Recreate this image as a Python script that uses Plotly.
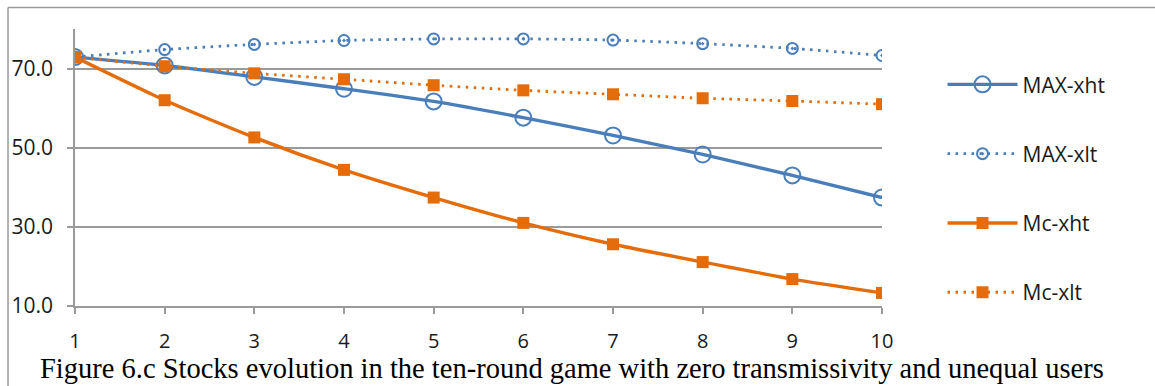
import plotly.graph_objects as go

# Rounds of the game
rounds = [1, 2, 3, 4, 5, 6, 7, 8, 9, 10]

# Stock levels per round for each scenario
max_xht = [72.9, 70.8, 67.9, 64.9, 61.7, 57.6, 53.1, 48.3, 43.0, 37.4]
max_xlt = [72.9, 74.8, 76.1, 77.1, 77.5, 77.5, 77.2, 76.3, 75.1, 73.3]
mc_xht = [72.9, 62.0, 52.6, 44.4, 37.4, 31.0, 25.6, 21.1, 16.8, 13.3]
mc_xlt = [72.9, 70.6, 68.8, 67.3, 65.8, 64.5, 63.5, 62.5, 61.8, 61.0]

y_ticks = [10, 30, 50, 70]
y_tick_labels = ["10.0", "30.0", "50.0", "70.0"]

caption = "Figure 6.c Stocks evolution in the ten-round game with zero transmissivity and unequal users"

BLUE = "#4A7EBB"
ORANGE = "#E46C0A"
GRID = "#9A9A9A"
TEXT = "#1a1a1a"

fig = go.Figure()

series = [
    ("MAX-xht", max_xht, BLUE, "solid", 3.4, "circle-open", 16, 2),
    ("MAX-xlt", max_xlt, BLUE, "2.5px,5.5px", 2.8, "circle-open-dot", 11, 2),
    ("Mc-xht", mc_xht, ORANGE, "solid", 3.4, "square", 12, 0),
    ("Mc-xlt", mc_xlt, ORANGE, "2.5px,5.5px", 2.8, "square", 12, 0),
]

for i, (name, vals, color, dash, lw, sym, size, mlw) in enumerate(series):
    fig.add_trace(go.Scatter(
        x=rounds, y=vals, name=name, legendgroup=f"g{i}",
        mode="lines+markers",
        line=dict(color=color, width=lw, dash=dash, shape="spline", smoothing=0.6),
        marker=dict(symbol=sym, size=size, color=color,
                    line=dict(color=color, width=mlw)),
    ))

fig.update_layout(
    width=1155, height=386,
    margin=dict(l=73, r=273, t=29, b=80),
    paper_bgcolor="white", plot_bgcolor="white",
    font=dict(family="Open Sans", size=21, color=TEXT),
    showlegend=True,
    legend=dict(
        x=1.075, xanchor="left", y=0.873, yanchor="top",
        traceorder="grouped", tracegroupgap=39,
        font=dict(family="Open Sans", size=21, color=TEXT),
        itemwidth=70, bgcolor="rgba(0,0,0,0)",
    ),
    xaxis=dict(
        range=[1, 10], tickvals=rounds, ticktext=[str(r) for r in rounds],
        showgrid=False, showline=True, linecolor=GRID, linewidth=1.5,
        ticks="outside", ticklen=6, tickcolor=GRID, tickwidth=1.5,
        ticklabelstandoff=10,
        tickfont=dict(family="Open Sans", size=20, color=TEXT),
        zeroline=False,
    ),
    yaxis=dict(
        range=[10, 80], tickvals=y_ticks, ticktext=y_tick_labels,
        showgrid=True, gridcolor=GRID, gridwidth=1.5,
        showline=True, linecolor=GRID, linewidth=1.5,
        ticks="outside", ticklen=6, tickcolor=GRID, tickwidth=1.5,
        ticklabelstandoff=10,
        tickfont=dict(family="Open Sans", size=21, color=TEXT),
        zeroline=False,
    ),
    annotations=[dict(
        text=caption, xref="paper", yref="paper", x=-0.046, y=-0.225,
        xanchor="left", yanchor="middle", showarrow=False,
        font=dict(family="Liberation Serif", size=28.5, color="black"),
    )],
    shapes=[
        dict(type="line", xref="paper", yref="paper", x0=-0.083, x1=1.5,
             y0=1.078, y1=1.078, line=dict(color=GRID, width=1.5)),
        dict(type="line", xref="paper", yref="paper", x0=-0.083, x1=-0.083,
             y0=1.078, y1=-0.5, line=dict(color=GRID, width=1.5)),
    ],
)

fig.write_html("out.html")
